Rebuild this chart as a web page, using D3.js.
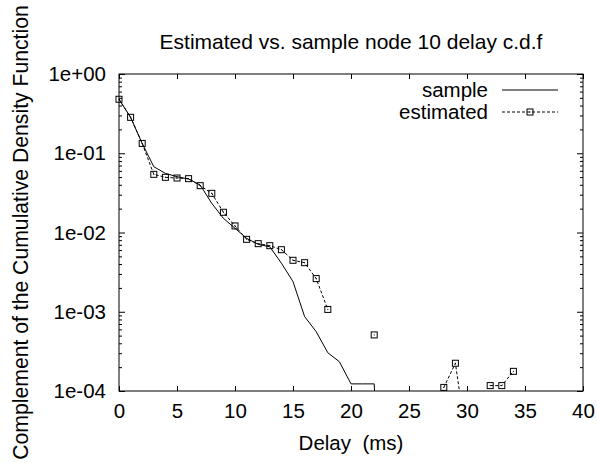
<!DOCTYPE html>
<html>
<head>
<meta charset="utf-8">
<script src="https://cdn.jsdelivr.net/npm/d3@7"></script>
<style>
  html, body { margin: 0; padding: 0; background: #fff; }
  svg { display: block; }
  text { font-family: "Liberation Sans", Arial, Helvetica, sans-serif; fill: #000; }
</style>
</head>
<body>
<div id="chart"></div>
<script>
// ---- data ----
const delays = [0,1,2,3,4,5,6,7,8,9,10,11,12,13,14,15,16,17,18,19,20,21,22,23,24,25,26,27,28,29,30,31,32,33,34];
const sampleValues = [0.48,0.284,0.133,0.0676,0.0558,0.0506,0.0473,0.0397,0.0233,0.0151,0.0113,0.00845,0.0071,0.0066,0.0041,0.0024,0.00087,0.00056,0.000304,0.000234,0.000123,0.000123,0.000123,1e-7,null,null,null,null,null,null,null,null,null,null,null];
const estimatedValues = [0.48,0.284,0.133,0.0542,0.0497,0.0487,0.0478,0.039,0.0312,0.018,0.0121,0.0082,0.00723,0.00682,0.00607,0.00446,0.00416,0.00262,0.00107,null,null,null,0.00051,null,null,null,null,null,0.000111,0.000224,0.000022,null,0.000117,0.000117,0.000177];
const xTicks = [0,5,10,15,20,25,30,35,40];
const yTicks = [1,1e-1,1e-2,1e-3,1e-4];
const yTickLabels = ["1e+00","1e-01","1e-02","1e-03","1e-04"];
const seriesNames = ["sample","estimated"];
const titleText = "Estimated vs. sample node 10 delay c.d.f";
const xLabel = "Delay  (ms)";
const yLabel = "Complement of the Cumulative Density Function";

// ---- layout ----
const W = 597, H = 463;
const L = 119, R = 583, T = 74, B = 391;
const FS = "20.5px";

const svg = d3.select("#chart").append("svg").attr("width", W).attr("height", H);

const x = d3.scaleLinear().domain([0, 40]).range([L, R]);
const y = d3.scaleLog().domain([1e-4, 1]).range([B, T]);

const minorY = [];
for (let e = -4; e < 0; e++) for (let m = 2; m <= 9; m++) minorY.push(m * Math.pow(10, e));

function styleAxis(g) {
  g.select(".domain").remove();
  g.selectAll(".tick line").attr("stroke", "#000").attr("stroke-width", 1);
  g.selectAll("text").style("font-size", FS).attr("fill", "#000");
}

// left axis (major + labels)
svg.append("g").attr("transform", `translate(${L},0)`)
  .call(d3.axisLeft(y).tickValues(yTicks).tickSize(-6).tickPadding(13)
    .tickFormat(d => yTickLabels[yTicks.indexOf(d)]))
  .call(styleAxis);
svg.append("g").attr("transform", `translate(${L},0)`)
  .call(d3.axisLeft(y).tickValues(minorY).tickSize(-3).tickFormat(""))
  .call(styleAxis);
// right axis
svg.append("g").attr("transform", `translate(${R},0)`)
  .call(d3.axisRight(y).tickValues(yTicks).tickSize(-6).tickFormat(""))
  .call(styleAxis);
svg.append("g").attr("transform", `translate(${R},0)`)
  .call(d3.axisRight(y).tickValues(minorY).tickSize(-3).tickFormat(""))
  .call(styleAxis);
// bottom axis
svg.append("g").attr("transform", `translate(0,${B})`)
  .call(d3.axisBottom(x).tickValues(xTicks).tickSize(-5).tickPadding(12).tickFormat(d3.format("d")))
  .call(styleAxis);
// top axis
svg.append("g").attr("transform", `translate(0,${T})`)
  .call(d3.axisTop(x).tickValues(xTicks).tickSize(-5).tickFormat(""))
  .call(styleAxis);

// frame
svg.append("rect").attr("x", L).attr("y", T).attr("width", R - L).attr("height", B - T)
  .attr("fill", "none").attr("stroke", "#000").attr("stroke-width", 1);

// clip
svg.append("clipPath").attr("id", "plotclip").append("rect")
  .attr("x", L).attr("y", T).attr("width", R - L).attr("height", B - T);

const sampleData = delays.map((d, i) => ({ x: d, v: sampleValues[i] }));
const estData = delays.map((d, i) => ({ x: d, v: estimatedValues[i] }));

const line = d3.line().defined(d => d.v != null && d.v > 0).x(d => x(d.x)).y(d => y(d.v));

svg.append("path").datum(sampleData).attr("clip-path", "url(#plotclip)")
  .attr("d", line).attr("fill", "none").attr("stroke", "#000").attr("stroke-width", 1);
svg.append("path").datum(estData).attr("clip-path", "url(#plotclip)")
  .attr("d", line).attr("fill", "none").attr("stroke", "#000").attr("stroke-width", 1)
  .attr("stroke-dasharray", "3,2");

function square(g, cx, cy) {
  g.append("rect").attr("x", cx - 3).attr("y", cy - 3).attr("width", 6).attr("height", 6)
    .attr("fill", "none").attr("stroke", "#000").attr("stroke-width", 1);
  g.append("rect").attr("x", cx - 0.5).attr("y", cy - 0.5).attr("width", 1).attr("height", 1).attr("fill", "#000");
}
const markers = svg.append("g");
estData.filter(d => d.v != null && d.v >= 1e-4 && d.v <= 1).forEach(d => square(markers, x(d.x), y(d.v)));

// legend
const legX2 = 488, lineX1 = 502, lineX2 = 558;
const legY = [90, 112];
svg.append("text").attr("x", legX2).attr("y", legY[0]).attr("dy", "0.35em").attr("text-anchor", "end")
  .style("font-size", FS).text(seriesNames[0]);
svg.append("line").attr("x1", lineX1).attr("x2", lineX2).attr("y1", legY[0]).attr("y2", legY[0])
  .attr("stroke", "#000").attr("stroke-width", 1);
svg.append("text").attr("x", legX2).attr("y", legY[1]).attr("dy", "0.35em").attr("text-anchor", "end")
  .style("font-size", FS).text(seriesNames[1]);
svg.append("line").attr("x1", lineX1).attr("x2", lineX2).attr("y1", legY[1]).attr("y2", legY[1])
  .attr("stroke", "#000").attr("stroke-width", 1).attr("stroke-dasharray", "3,2");
square(svg, (lineX1 + lineX2) / 2, legY[1]);

// title & labels
svg.append("text").attr("x", (L + R) / 2).attr("y", 49).attr("text-anchor", "middle")
  .style("font-size", "21px").text(titleText);
svg.append("text").attr("x", (L + R) / 2).attr("y", 450).attr("text-anchor", "middle")
  .style("font-size", FS).style("white-space", "pre").text(xLabel);
svg.append("text").attr("transform", `translate(28,${(T + B) / 2}) rotate(-90)`)
  .attr("text-anchor", "middle").style("font-size", "21.2px").text(yLabel);
</script>
</body>
</html>
